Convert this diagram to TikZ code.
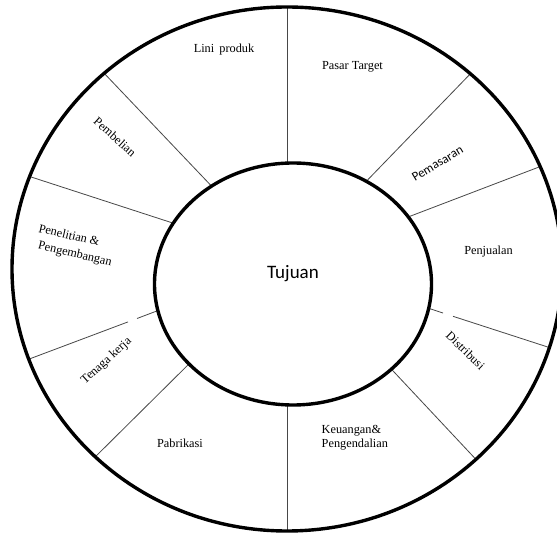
\documentclass[tikz,border=0pt]{standalone}
\usepackage{fontspec}
\usetikzlibrary{shapes.geometric}
\setmainfont{Liberation Serif}
\newfontfamily\calfont{Carlito}
\begin{document}
\begin{tikzpicture}[x=1pt,y=-1pt,
  spoke/.style={draw=black!72,line width=0.8pt},
  ring/.style={draw=black,line width=3.4pt},
  lbl/.style={font=\fontsize{12.3}{14.5}\selectfont,inner sep=0pt,anchor=center},
  slbl/.style={font=\calfont\fontsize{12.8}{14}\selectfont,inner sep=0pt,anchor=center}]
\useasboundingbox (0,0) rectangle (557,534);
\clip (0,0) rectangle (557,534);
\fill[white] (0,0) rectangle (557,534);
% outer ring
\begin{scope}
\clip (287,269) ellipse [x radius=275, y radius=262];
% spokes
\draw[spoke] (287.7,0) -- (287.7,200);
\draw[spoke] (102,71) -- (220,195);
\draw[spoke] (25,175) -- (185,227);
\draw[spoke] (20,362.5) -- (128,321.9);
\draw[spoke] (137,318.5) -- (170,306);
\draw[spoke] (83,469) -- (200,353);
\draw[spoke] (287.7,380) -- (287.7,540);
\draw[spoke] (380,357) -- (484,468);
\draw[spoke] (420,305.5) -- (443,313);
\draw[spoke] (453,316.3) -- (560,351);
\draw[spoke] (395,222) -- (560,159);
\draw[spoke] (355,193) -- (475,69);
\end{scope}
\draw[ring] (287,269) ellipse [x radius=275, y radius=262];
\node[ring,fill=white,ellipse,minimum width=277pt,minimum height=242pt,inner sep=0pt] (inner) at (293,284) {};
% labels
\node[font=\calfont\fontsize{19}{22}\selectfont,inner sep=0pt] (tuj) at (293,274) {Tujuan};
\node[lbl] (lini) at (224,50) {Lini\ \,produk};
\node[lbl] (pasar) at (352.5,66.5) {Pasar Target};
\node[slbl,rotate=31] (pem) at (437.5,163.5) {Pemasaran};
\node[lbl] (penj) at (488.5,252) {Penjualan};
\node[lbl,rotate=-44] (dist) at (465.5,350.5) {Distribusi};
\node[lbl,align=left,anchor=north west] (keu) at (321.5,425) {Keuangan\&\\Pengendalian};
\node[lbl] (pabr) at (180,443.5) {Pabrikasi};
\node[lbl,rotate=42] (tena) at (106.5,361) {Tenaga kerja};
\node[lbl,rotate=-13,anchor=west] (pen1) at (39,228) {Penelitian \&};
\node[lbl,rotate=-13,anchor=west] (pen2) at (38,246) {Pengembangan};
\node[lbl,rotate=-42] (pemb) at (115,137) {Pembelian};
\end{tikzpicture}
\end{document}
